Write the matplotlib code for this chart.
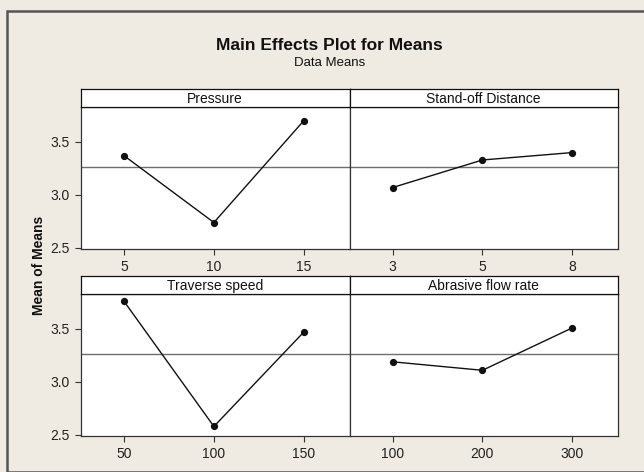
import matplotlib.pyplot as plt
from matplotlib.patches import Rectangle

# factor names and levels
factors = ["Pressure", "Stand-off Distance", "Traverse speed", "Abrasive flow rate"]
pressure_lv = ["5", "10", "15"]
standoff_lv = ["3", "5", "8"]
speed_lv = ["50", "100", "150"]
flow_lv = ["100", "200", "300"]

# mean of means
pressure_mean = [3.37, 2.74, 3.70]
standoff_mean = [3.07, 3.33, 3.40]
speed_mean = [3.76, 2.58, 3.47]
flow_mean = [3.19, 3.11, 3.51]
grand_mean = 3.265

levels = [pressure_lv, standoff_lv, speed_lv, flow_lv]
means = [pressure_mean, standoff_mean, speed_mean, flow_mean]

plt.rcParams['font.family'] = ['Liberation Sans', 'DejaVu Sans']
bg = '#EFEBE2'

fig = plt.figure(figsize=(6.44, 4.72), dpi=100, facecolor=bg)

# outer frame
fig.patches.append(Rectangle((7/644, 0.5/472), 1.0, (472-11)/472, transform=fig.transFigure,
                             fill=False, edgecolor='#555555', linewidth=1.8))

fig.text(0.512, 1 - 46/472, "Main Effects Plot for Means", ha='center', va='center',
         fontsize=12.5, fontweight='bold', color='#111111')
fig.text(0.512, 1 - 63/472, "Data Means", ha='center', va='center', fontsize=9.5, color='#111111')
fig.text(39/644, 1 - 265/472, "Mean of Means", rotation=90, ha='center', va='center',
         fontsize=10, fontweight='bold', color='#111111')

W, H = 644.0, 472.0
xs = [81, 349.5]
pw = 268.5
tops = [107, 294]   # top of plotting area (px)
ph = 142
sh = 18

for i in range(4):
    r, c = divmod(i, 2)
    x0 = xs[c]
    y_top = tops[r]
    ax = fig.add_axes([x0/W, (H - y_top - ph)/H, pw/W, ph/H])
    sx = fig.add_axes([x0/W, (H - y_top)/H, pw/W, sh/H])

    pos = [1, 2, 3]
    ax.axhline(grand_mean, color='#6e6e6e', linewidth=1.0, zorder=1)
    ax.plot(pos, means[i], color='#111111', linewidth=1.0, marker='o', markersize=4.2, zorder=3)
    ax.set_xlim(0.52, 3.51)
    ax.set_ylim(2.49, 3.83)
    ax.set_xticks(pos)
    ax.set_xticklabels(levels[i])
    ax.set_yticks([2.5, 3.0, 3.5])
    if c == 0:
        ax.set_yticklabels(["2.5", "3.0", "3.5"])
    else:
        ax.tick_params(axis='y', left=False, labelleft=False)
    ax.tick_params(direction='out', length=4, width=0.8, colors='#333333',
                   labelsize=10, labelcolor='#222222', pad=4)
    for s in ax.spines.values():
        s.set_color('#333333')
        s.set_linewidth(0.9)
    ax.set_facecolor('white')

    sx.set_facecolor('white')
    sx.set_xticks([])
    sx.set_yticks([])
    for s in sx.spines.values():
        s.set_color('#111111')
        s.set_linewidth(0.9)
    sx.text(0.5, 0.45, factors[i], ha='center', va='center', fontsize=10,
            color='#111111', transform=sx.transAxes)

fig.savefig("out.png", dpi=100, facecolor=bg)
